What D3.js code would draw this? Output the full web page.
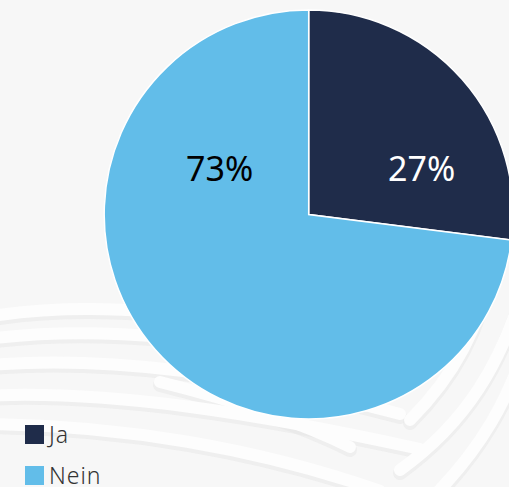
<!DOCTYPE html>
<html>
<head>
<meta charset="utf-8">
<script src="https://cdn.jsdelivr.net/npm/d3@7"></script>
<style>
  html, body { margin: 0; padding: 0; background: #f7f7f7; }
  svg { display: block; }
</style>
</head>
<body>
<div id="chart"></div>
<script>
// data
const categories = ["Ja", "Nein"];
const values = [27, 73];
const colors = ["#1f2c4a", "#62bde9"];
const labelColors = ["#ffffff", "#000000"];

const width = 509;
const height = 487;

// pie layout
const cx = 308.7, cy = 214.5, radius = 204.5;
// where the percentage labels sit, relative to pie centre
const labelOffsets = [[113, -47], [-89, -47]];

const svg = d3.select("#chart")
    .append("svg")
    .attr("width", width)
    .attr("height", height);

svg.append("rect")
    .attr("width", width)
    .attr("height", height)
    .attr("fill", "#f7f7f7");

// decorative ribbons in the background
const ribbons = svg.append("g").attr("fill", "none").attr("stroke-linecap", "round");
const ribbonPaths = [
    "M-20,318 C80,300 230,310 330,345",
    "M-20,340 C90,324 240,337 360,374",
    "M-20,366 C100,354 250,374 400,414",
    "M-20,396 C110,389 260,414 420,449",
    "M-20,424 C120,424 260,449 380,491",
    "M160,382 C240,402 300,422 350,447",
    "M520,300 C500,360 470,420 400,470",
    "M530,330 C510,400 480,450 430,500",
    "M490,270 C480,330 450,380 410,420"
];
ribbons.selectAll(".shadow")
    .data(ribbonPaths)
    .enter()
    .append("path")
    .attr("d", d => d)
    .attr("stroke", "#e4e4e4")
    .attr("stroke-width", 14)
    .attr("transform", "translate(0,3)")
    .attr("opacity", 0.45);
ribbons.selectAll(".band")
    .data(ribbonPaths)
    .enter()
    .append("path")
    .attr("d", d => d)
    .attr("stroke", "#fdfdfd")
    .attr("stroke-width", 12);

// pie
const pie = d3.pie().sort(null).value(d => d);
const arc = d3.arc().innerRadius(0).outerRadius(radius);
const arcs = pie(values);

const g = svg.append("g")
    .attr("transform", "translate(" + cx + "," + cy + ")");

g.selectAll(".slice")
    .data(arcs)
    .enter()
    .append("path")
    .attr("class", "slice")
    .attr("d", arc)
    .attr("fill", (d, i) => colors[i])
    .attr("stroke", "#ffffff")
    .attr("stroke-width", 1.5);

g.selectAll(".pct")
    .data(arcs)
    .enter()
    .append("text")
    .attr("class", "pct")
    .attr("x", (d, i) => labelOffsets[i][0])
    .attr("y", (d, i) => labelOffsets[i][1])
    .attr("text-anchor", "middle")
    .attr("dominant-baseline", "central")
    .attr("font-family", "'Noto Sans', sans-serif")
    .attr("font-size", 34)
    .attr("fill", (d, i) => labelColors[i])
    .text(d => d3.format(".0f")(d.data) + "%");

// legend
const legend = svg.append("g")
    .attr("transform", "translate(25,425)");

const item = legend.selectAll(".item")
    .data(categories)
    .enter()
    .append("g")
    .attr("class", "item")
    .attr("transform", (d, i) => "translate(0," + (i * 41) + ")");

item.append("rect")
    .attr("width", 19)
    .attr("height", 19)
    .attr("fill", (d, i) => colors[i]);

item.append("text")
    .attr("x", 24)
    .attr("y", 17.5)
    .attr("font-family", "'Noto Sans', sans-serif")
    .attr("font-weight", 300)
    .attr("font-size", 23)
    .attr("letter-spacing", 1)
    .attr("fill", "#333333")
    .text(d => d);
</script>
</body>
</html>
